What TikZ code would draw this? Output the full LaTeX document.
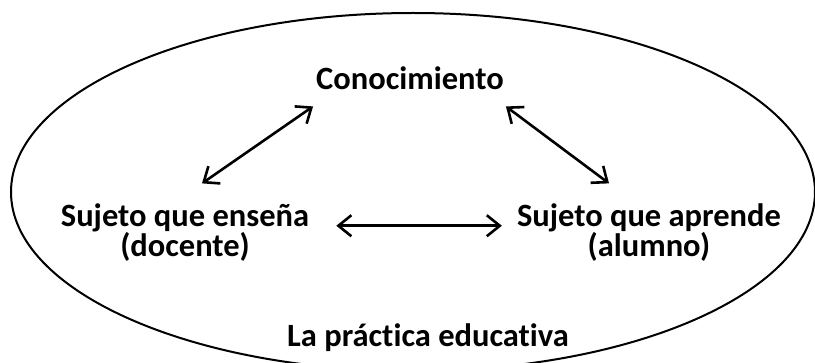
\documentclass[tikz,border=0pt]{standalone}
\usepackage{fontspec}
\setmainfont[RawFeature=-liga]{Carlito}
\usetikzlibrary{arrows.meta}

\begin{document}
\begin{tikzpicture}
        [x=1pt,y=-1pt]
            \tikzstyle{every node}=[inner sep=0pt, align=center,
        font=\fontsize{32.5}{29.5}\selectfont\bfseries]
            \tikzstyle{flecha}=[{Straight Barb[length=13pt,width=21pt]}-{Straight Barb[length=13pt,width=21pt]}, line width=2.6pt]
        \useasboundingbox (0,0) rectangle (815,363);
        \clip (0,0) rectangle (815,363);
        %-----ellipse
         \draw[line width=2pt] (413,192) ellipse [x radius=402, y radius=179];
        %-----nodes
         \node[anchor=base] (CON) at (410,90) {Conocimiento};
         \node[anchor=base] (ENS) at (185,257) {Sujeto que enseña\\(docente)};
         \node[anchor=base] (APR) at (649,257) {Sujeto que aprende\\(alumno)};
         \node[anchor=base] (PRA) at (428,347) {La práctica educativa};

         \draw[flecha] ([xshift=-3pt,yshift=-16pt]CON.south west) -- ([xshift=17pt,yshift=20pt]ENS.north);
         \draw[flecha] ([xshift=2pt,yshift=-16pt]CON.south east) -- ([xshift=-40pt,yshift=20pt]APR.north);
         \draw[flecha] ([xshift=27pt,yshift=7pt]ENS.east) -- ([xshift=-15pt,yshift=7pt]APR.west);

    % relacion didactica
        \end{tikzpicture}
\end{document}
